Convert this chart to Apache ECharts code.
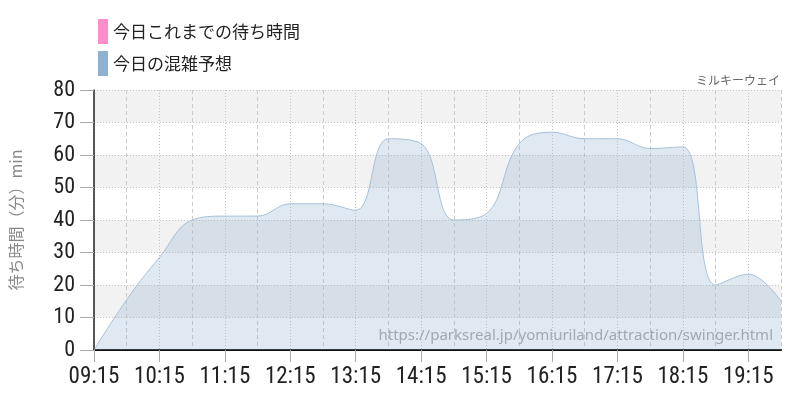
<!DOCTYPE html>
<html>
<head>
<meta charset="utf-8">
<script src="https://cdn.jsdelivr.net/npm/echarts@6/dist/echarts.min.js"></script>
<style>
html,body{margin:0;padding:0;background:#fff;}
#chart{width:800px;height:400px;}
</style>
</head>
<body>
<div id="chart"></div>
<script>
const categories = ["09:15","09:45","10:15","10:45","11:15","11:45","12:15","12:45","13:15","13:45","14:15","14:45","15:15","15:45","16:15","16:45","17:15","17:45","18:15","18:45","19:15","19:45"];
const todayActual = [];
const todayForecast = [0,15.5,28.5,40,41.2,41.2,45,45,43,65,63.5,40,42,63.5,67,65,65,62,62.5,20,23.3,15];
const yTicks = [0,10,20,30,40,50,60,70,80];
const seriesNames = ["今日これまでの待ち時間","今日の混雑予想"];
const attraction = "ミルキーウェイ";
const sourceUrl = "https://parksreal.jp/yomiuriland/attraction/swinger.html";
const yAxisName = "待ち時間（分）min";

const numFont = "'Roboto Condensed','Liberation Sans Narrow','DejaVu Sans Condensed',Roboto,sans-serif";
const jpFont = "'Noto Sans CJK JP','Noto Sans',sans-serif";

const chart = echarts.init(document.getElementById('chart'), null, {renderer:'canvas'});
chart.setOption({
  animation:false,
  backgroundColor:'#ffffff',
  title:{
    text:attraction,
    right:15, top:69,
    textStyle:{fontFamily:jpFont,fontSize:12,fontWeight:'normal',color:'#666'}
  },
  legend:{
    orient:'vertical',
    left:93, top:14,
    icon:'rect',
    itemWidth:10, itemHeight:25, itemGap:7,
    textStyle:{fontFamily:jpFont,fontSize:17,color:'#222',padding:[0,0,0,0]},
    data:[
      {name:seriesNames[0],itemStyle:{color:'#ff8ccb'}},
      {name:seriesNames[1],itemStyle:{color:'#8fb1cf'}}
    ]
  },
  grid:{left:91,right:19,top:90,bottom:50,containLabel:false},
  xAxis:[{
    type:'category',
    data:categories,
    boundaryGap:false,
    axisLine:{show:true,lineStyle:{color:'#111',width:2}},
    axisTick:{show:true,interval:1,length:12,lineStyle:{color:'#aaa'}},
    axisLabel:{interval:1,margin:16,fontFamily:numFont,fontSize:23,fontWeight:'condensed',color:'#222'},
    splitLine:{show:true,interval:function(i){return i%2===1;},lineStyle:{color:'#ccc',type:[4,3]}}
  },{
    type:'category',
    data:categories,
    boundaryGap:false,
    position:'bottom',
    axisLine:{show:false},
    axisTick:{show:false},
    axisLabel:{show:false},
    splitLine:{show:true,interval:function(i){return i%2===0;},lineStyle:{color:'#c4c4c4',type:[1,2]}}
  }],
  yAxis:{
    type:'value',
    min:0,max:80,interval:10,
    name:yAxisName,
    nameLocation:'middle',
    nameGap:70,
    nameTextStyle:{fontFamily:jpFont,fontSize:16,color:'#888'},
    axisLine:{show:true,lineStyle:{color:'#222',width:1.5}},
    axisTick:{show:true,length:14,lineStyle:{color:'#aaa'}},
    axisLabel:{margin:19,fontFamily:numFont,fontSize:22,fontWeight:'condensed',color:'#222',
      formatter:function(v){return yTicks.indexOf(v)>=0?String(v):'';}},
    splitLine:{show:true,lineStyle:{color:'#c4c4c4',type:[1,2]}},
    splitArea:{show:true,areaStyle:{color:['#ffffff','#f2f2f2']}}
  },
  graphic:[{
    type:'text',
    right:27, top:328,
    z:10,
    style:{text:sourceUrl,fontFamily:"'Noto Sans',sans-serif",fontSize:15,fill:'#a2a8ae'}
  }],
  series:[{
    name:seriesNames[0],
    type:'line',
    data:todayActual,
    itemStyle:{color:'#ff8ccb'},
    showSymbol:false
  },{
    name:seriesNames[1],
    type:'line',
    xAxisIndex:0,
    data:todayForecast,
    smooth:0.4,
    showSymbol:false,
    itemStyle:{color:'#8fb1cf'},
    lineStyle:{color:'#a6c0d8',width:1},
    areaStyle:{color:'#8fb0cc',opacity:0.28}
  }]
});
</script>
</body>
</html>
